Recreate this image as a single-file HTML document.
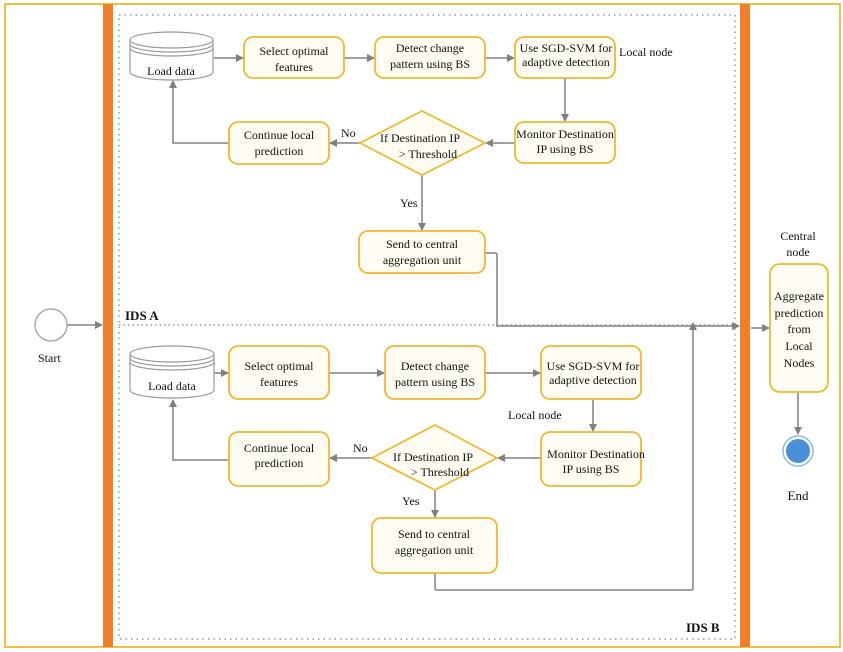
<!DOCTYPE html>
<html><head><style>body{margin:0;background:#fff}svg{display:block}text{font-family:"Liberation Serif",serif;font-size:12px;fill:#111}</style></head><body>
<svg width="843" height="652" viewBox="0 0 843 652">
<defs><marker id="a" markerWidth="8" markerHeight="8" refX="7" refY="4" orient="auto" markerUnits="userSpaceOnUse"><path d="M0,0L8,4L0,8z" fill="#808080"/></marker></defs>
<rect x="5" y="4" width="835" height="643" fill="none" stroke="#f0c040" stroke-width="2"/>
<rect x="103" y="4" width="10" height="643" fill="#f07f2a"/>
<rect x="740" y="4" width="10" height="643" fill="#f07f2a"/>
<rect x="119" y="15" width="616" height="624" fill="none" stroke="#999" stroke-width="1.5" stroke-dasharray="1.5 4"/>
<line x1="119" y1="325" x2="735" y2="325" stroke="#999" stroke-width="1.5" stroke-dasharray="1.5 3"/>
<g stroke="#808080" stroke-width="1.5" fill="none">
<line x1="67" y1="325" x2="102" y2="325" marker-end="url(#a)"/>
<line x1="214" y1="58" x2="243" y2="58" marker-end="url(#a)"/>
<line x1="344" y1="58" x2="374" y2="58" marker-end="url(#a)"/>
<line x1="485" y1="58" x2="514" y2="58" marker-end="url(#a)"/>
<line x1="565" y1="78" x2="565" y2="121" marker-end="url(#a)"/>
<line x1="515" y1="143" x2="486" y2="143" marker-end="url(#a)"/>
<line x1="360" y1="143" x2="330" y2="143" marker-end="url(#a)"/>
<path d="M229 143H173V81" marker-end="url(#a)"/>
<line x1="422" y1="175" x2="422" y2="230" marker-end="url(#a)"/>
<path d="M485 253H495Q497 253 497 255V326H739" marker-end="url(#a)"/>
<line x1="214" y1="373" x2="228" y2="373" marker-end="url(#a)"/>
<line x1="329" y1="373" x2="384" y2="373" marker-end="url(#a)"/>
<line x1="485" y1="373" x2="540" y2="373" marker-end="url(#a)"/>
<line x1="593" y1="399" x2="593" y2="431" marker-end="url(#a)"/>
<line x1="541" y1="458" x2="498" y2="458" marker-end="url(#a)"/>
<line x1="372" y1="458" x2="330" y2="458" marker-end="url(#a)"/>
<path d="M229 460H173V400" marker-end="url(#a)"/>
<line x1="435" y1="490" x2="435" y2="517" marker-end="url(#a)"/>
<path d="M435 573V588Q435 590 437 590H691Q693 590 693 588V323" marker-end="url(#a)"/>
<line x1="751" y1="328" x2="769" y2="328" marker-end="url(#a)"/>
<line x1="798" y1="392" x2="798" y2="434" marker-end="url(#a)"/>
</g>
<circle cx="51" cy="325" r="16" fill="#fff" stroke="#aaa" stroke-width="1.5"/>
<text x="38" y="362">Start</text>
<g fill="#fffdf3" stroke="#f0b830" stroke-width="1.8">
<rect x="244" y="37" width="100" height="41" rx="9"/>
<rect x="375" y="37" width="110" height="41" rx="9"/>
<rect x="515" y="37" width="100" height="41" rx="9"/>
<rect x="515" y="122" width="100" height="41" rx="9"/>
<rect x="229" y="122" width="100" height="42" rx="9"/>
<rect x="359" y="231" width="126" height="42" rx="9"/>
<polygon points="360,143 422,111 485,143 422,175"/>
<rect x="229" y="346" width="100" height="53" rx="9"/>
<rect x="385" y="346" width="100" height="53" rx="9"/>
<rect x="541" y="346" width="100" height="53" rx="9"/>
<rect x="541" y="432" width="100" height="54" rx="9"/>
<rect x="229" y="432" width="100" height="54" rx="9"/>
<rect x="372" y="518" width="125" height="55" rx="9"/>
<polygon points="372,458 435,425 497,458 435,490"/>
<rect x="770" y="264" width="58" height="128" rx="10"/>
</g>
<g fill="#fff" stroke="#999" stroke-width="1.2">
<path d="M130 40V72A41.5 8 0 0 0 213 72V40"/>
<ellipse cx="171.5" cy="40" rx="41.5" ry="8"/>
<path d="M130 44A41.5 8 0 0 0 213 44M130 48A41.5 8 0 0 0 213 48" fill="none"/>
<path d="M130 354V390A42 8 0 0 0 214 390V354"/>
<ellipse cx="172" cy="354" rx="42" ry="8"/>
<path d="M130 358A42 8 0 0 0 214 358M130 362A42 8 0 0 0 214 362" fill="none"/>
</g>
<circle cx="798" cy="451" r="15" fill="#fff" stroke="#8bb8e8" stroke-width="1.5"/>
<circle cx="798" cy="451" r="12" fill="#4a90d9"/>
<g text-anchor="middle">
<text x="171" y="75">Load data</text>
<text x="294" y="55">Select optimal</text><text x="294" y="71">features</text>
<text x="430" y="52">Detect change</text><text x="430" y="68">pattern using BS</text>
<text x="566" y="52">Use SGD-SVM for</text><text x="566" y="66">adaptive detection</text>
<text x="565" y="138">Monitor Destination</text><text x="565" y="153">IP using BS</text>
<text x="279" y="139">Continue local</text><text x="279" y="155">prediction</text>
<text x="420" y="142">If Destination IP</text><text x="428" y="158">&gt; Threshold</text>
<text x="422" y="248">Send to central</text><text x="422" y="264">aggregation unit</text>
<text x="172" y="390">Load data</text>
<text x="279" y="370">Select optimal</text><text x="279" y="386">features</text>
<text x="435" y="370">Detect change</text><text x="435" y="386">pattern using BS</text>
<text x="593" y="370">Use SGD-SVM for</text><text x="593" y="384">adaptive detection</text>
<text x="596" y="458">Monitor Destination</text><text x="591" y="473">IP using BS</text>
<text x="279" y="452">Continue local</text><text x="279" y="467">prediction</text>
<text x="433" y="461">If Destination IP</text><text x="440" y="476">&gt; Threshold</text>
<text x="434" y="538">Send to central</text><text x="434" y="554">aggregation unit</text>
<text x="799" y="300">Aggregate</text><text x="799" y="317">prediction</text><text x="799" y="333">from</text><text x="799" y="350">Local</text><text x="799" y="367">Nodes</text>
<text x="798" y="240">Central</text><text x="798" y="256">node</text>
<text x="798" y="500" style="font-size:13px">End</text>
</g>
<text x="619" y="56">Local node</text>
<text x="508" y="419">Local node</text>
<text x="400" y="207">Yes</text>
<text x="402" y="505">Yes</text>
<text x="341" y="137">No</text>
<text x="353" y="452">No</text>
<text x="125" y="320" style="font-weight:bold;font-size:13px">IDS A</text>
<text x="686" y="632" style="font-weight:bold;font-size:13px">IDS B</text>
</svg>
</body></html>
